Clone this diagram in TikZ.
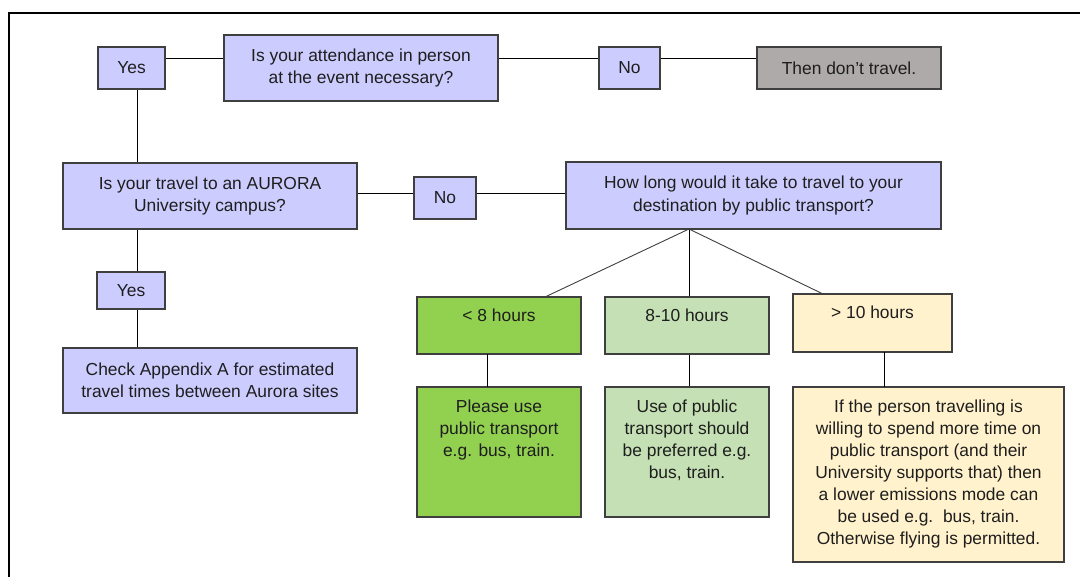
\documentclass[tikz,border=0pt]{standalone}
\usepackage{fontspec}
\setmainfont{Liberation Sans}
\definecolor{lav}{HTML}{CCCCFF}
\definecolor{dkgray}{HTML}{AEAAAA}
\definecolor{grn}{HTML}{92D050}
\definecolor{lgrn}{HTML}{C5E0B4}
\definecolor{crm}{HTML}{FFF2CC}
\definecolor{bd}{HTML}{3F3F3F}
\definecolor{txt}{HTML}{1E1E1E}
\begin{document}
\begin{tikzpicture}[x=1pt,y=-1pt,
  box/.style={draw=bd, line width=1.1pt, inner sep=0pt, align=center, text=txt,
    font=\fontsize{17.4}{22.5}\selectfont},
  label/.style={inner sep=0pt, align=center, text=txt, anchor=north,
    font=\fontsize{17.4}{22}\selectfont},
  conn/.style={draw=black, line width=0.9pt}]
\useasboundingbox (0,0) rectangle (1080,577);
\fill[white] (0,0) rectangle (1080,577);
\draw[line width=2pt] (9,577) -- (9,13) -- (1080,13);

% top row
\node[box, fill=lav, minimum width=67pt, minimum height=42pt] (yes1) at (131.5,68) {Yes};
\node[box, fill=lav, minimum width=274pt, minimum height=66pt] (q1) at (361,68) {Is your attendance in person\\at the event necessary?};
\node[box, fill=lav, minimum width=61pt, minimum height=42pt] (no1) at (629.5,68) {No};
\node[box, fill=dkgray, minimum width=184pt, minimum height=42pt] (dont) at (849,68) {Then don’t travel.};

% second row
\node[box, fill=lav, minimum width=294pt, minimum height=66pt] (q2) at (210,196) {Is your travel to an AURORA\\University campus?};
\node[box, fill=lav, minimum width=62pt, minimum height=42pt] (no2) at (445,198) {No};
\node[box, fill=lav, minimum width=375pt, minimum height=67pt] (q3) at (753.5,195.5) {How long would it take to travel to your\\destination by public transport?};

% left column
\node[box, fill=lav, minimum width=68pt, minimum height=37pt] (yes2) at (131,290.5) {Yes};
\node[box, fill=lav, minimum width=294pt, minimum height=65pt] (app) at (210,380.5) {Check Appendix A for estimated\\travel times between Aurora sites};

% hours boxes
\node[box, fill=grn, minimum width=164pt, minimum height=57pt] (h1) at (499,325.5) {};
\node[box, fill=lgrn, minimum width=164pt, minimum height=57pt] (h2) at (687,325.5) {};
\node[box, fill=crm, minimum width=159pt, minimum height=58pt] (h3) at (872.5,323) {};
\node[label] (h1t) at ([yshift=-12pt]h1.north) {< 8 hours};
\node[label] (h2t) at ([yshift=-12pt]h2.north) {8-10 hours};
\node[label] (h3t) at ([yshift=-12pt]h3.north) {> 10 hours};

% answer boxes
\node[box, fill=grn, minimum width=164pt, minimum height=130pt] (a1) at (499,452) {};
\node[box, fill=lgrn, minimum width=164pt, minimum height=130pt] (a2) at (687,452) {};
\node[box, fill=crm, minimum width=271pt, minimum height=175pt] (a3) at (928.5,474.5) {};
\node[label] (a1t) at ([yshift=-13pt]a1.north) {Please use\\public transport\\e.g. bus, train.};
\node[label] (a2t) at ([yshift=-13pt]a2.north) {Use of public\\transport should\\be preferred e.g.\\bus, train.};
\node[label] (a3t) at ([yshift=-13pt]a3.north) {If the person travelling is\\willing to spend more time on\\public transport (and their\\University supports that) then\\a lower emissions mode can\\be used e.g.\ \ bus, train.\\Otherwise flying is permitted.};

% connectors
\draw[conn] ([yshift=10pt]yes1.east) -- ([yshift=10pt]q1.west);
\draw[conn] ([yshift=10pt]q1.east) -- ([yshift=10pt]no1.west);
\draw[conn] ([yshift=10pt]no1.east) -- ([yshift=10pt]dont.west);
\draw[conn] ([xshift=5.5pt]yes1.south) -- ([xshift=5.5pt]yes1.south |- q2.north);
\draw[conn] ([yshift=3pt]q2.east) -- ([yshift=5pt]no2.west);
\draw[conn] ([yshift=5pt]no2.east) -- ([yshift=2.5pt]q3.west);
\draw[conn] ([xshift=6pt]yes2.north |- q2.south) -- ([xshift=6pt]yes2.north);
\draw[conn] ([xshift=6pt]yes2.south) -- ([xshift=6pt]yes2.south |- app.north);
\coordinate (fork) at (689,229);
\draw[conn, draw=black!75] (fork) -- (545,297);
\draw[conn] (fork) -- (fork |- h2.north);
\draw[conn, draw=black!75] (fork) -- (823,294);
\draw[conn] (487,354) -- (487,387);
\draw[conn] ([xshift=2pt]h2.south) -- ([xshift=2pt]a2.north);
\draw[conn] (884,352) -- (884,387);
\end{tikzpicture}
\end{document}
